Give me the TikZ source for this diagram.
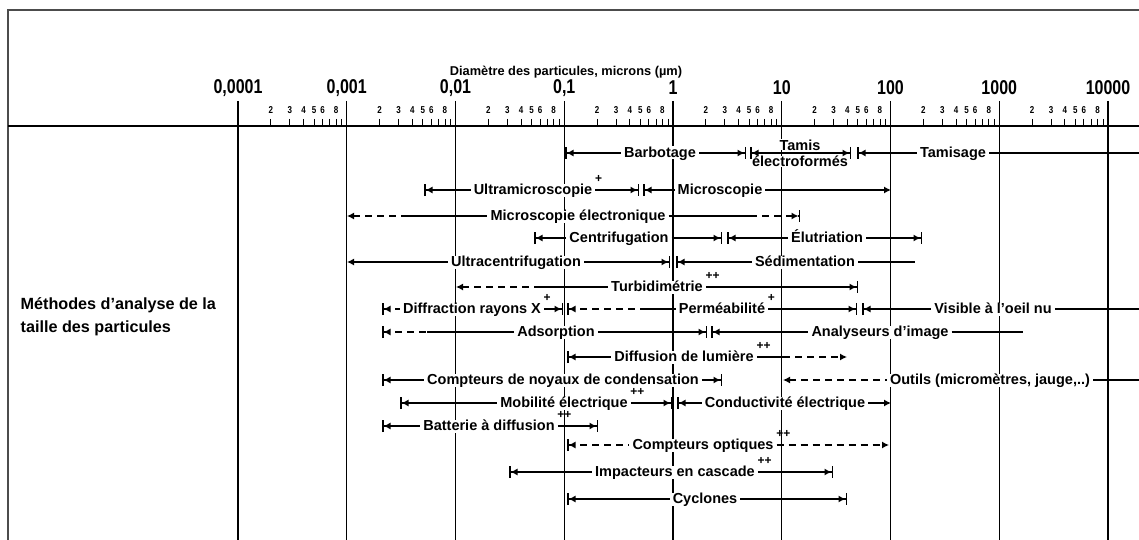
\documentclass[tikz,border=0pt]{standalone}
\usepackage{fontspec}
\setmainfont{Liberation Sans}
\newfontfamily\etroite[FakeStretch=0.8]{Liberation Sans}
\usetikzlibrary{arrows.meta}

\tikzset{
  cadre/.style={line width=2pt, black!70},
  axe/.style={line width=1.4pt},
  decade/.style={line width=1.4pt},
  graduation/.style={line width=0.9pt},
  titre/.style={font=\fontsize{12.8}{14}\selectfont\bfseries},
  echelle/.style={font=\etroite\fontsize{20}{20}\selectfont\bfseries, inner sep=0pt},
  chiffre/.style={font=\etroite\fontsize{10}{10}\selectfont\bfseries, inner sep=0pt},
  methode/.style={font=\fontsize{14.5}{16}\selectfont\bfseries, fill=white, text height=11pt, text depth=2pt, inner xsep=2.5pt, inner ysep=0pt},
  exposant/.style={font=\fontsize{12}{12}\selectfont\bfseries, inner sep=0pt},
  renvoi/.style={label={[exposant,anchor=west,xshift=-1pt,yshift=3.5pt]north east:#1}},
  tirets/.style={dash pattern=on 7pt off 5pt},
  barreG/.style={arrows={{Bar[width=12pt,line width=1.5pt]Latex[length=7pt,width=7pt]}-}},
  barreD/.style={arrows={-{Latex[length=7pt,width=7pt]Bar[width=12pt,line width=1.5pt]}}},
  barres/.style={arrows={{Bar[width=12pt,line width=1.5pt]Latex[length=7pt,width=7pt]}-{Latex[length=7pt,width=7pt]Bar[width=12pt,line width=1.5pt]}}},
  pointeG/.style={arrows={{Latex[length=7pt,width=7pt]}-}},
  pointeD/.style={arrows={-{Latex[length=7pt,width=7pt]}}},
}

\begin{document}
\begin{tikzpicture}[x=1pt, y=-1pt, line width=1.3pt]
  \useasboundingbox (0,0) rectangle (1139,540);

  % cadre et axe
  \draw[cadre] (8,540) -- (8,10) -- (1139,10);
  \draw[axe] (8,126) -- (1139,126);
  \node[titre] (titre) at (566,72) {Diamètre des particules, microns (µm)};

  % decades
  \foreach \k/\lab in {0/{0,0001},1/{0,001},2/{0,01},3/{0,1},4/1,5/10,6/100,7/1000,8/10000} {
    \pgfmathsetmacro{\xd}{238+108.75*\k}
    \draw[decade] (\xd,101) -- (\xd,540);
    \node[echelle] (dec\k) at (\xd,88) {\lab};
  }
  % graduations
  \foreach \k in {0,...,7} {
    \foreach \m in {2,...,9} {
      \pgfmathsetmacro{\xm}{238+108.75*(\k+log10(\m))}
      \draw[graduation] (\xm,119) -- (\xm,126);
    }
    \foreach \m in {2,3,4,5,6,8} {
      \pgfmathsetmacro{\xm}{238+108.75*(\k+log10(\m))}
      \node[chiffre] (g\k\m) at (\xm,110) {\m};
    }
  }

  \node[font=\fontsize{16.2}{23}\selectfont\bfseries, align=left, anchor=west, inner sep=0pt] (methodes) at (20,317)
    {Méthodes d'analyse de la\\taille des particules};

  % ligne 1
  \coordinate (barbG) at (565,153);
  \coordinate (barbD) at (746,153);
  \node[methode] (barb) at (660,153) {Barbotage};
  \draw[barreG] (barbG) -- (barb);
  \draw[barreD] (barb) -- (barbD);
  \coordinate (tamG) at (750,153);
  \coordinate (tamD) at (851,153);
  \node[methode, text height=, text depth=, inner sep=0pt, anchor=base] (tamis) at (800,150) {Tamis};
  \node[methode, text height=, text depth=, inner sep=0pt, anchor=base] (tamisb) at (800,167) {électroformés};
  \draw[barres] (tamG) -- (tamD);
  \coordinate (tsG) at (857,153);
  \coordinate (tsD) at (1139,153);
  \node[methode] (tamisage) at (953,153) {Tamisage};
  \draw[barreG] (tsG) -- (tamisage);
  \draw (tamisage) -- (tsD);

  % ligne 2
  \coordinate (umG) at (424,190);
  \coordinate (umD) at (639,190);
  \node[methode, renvoi=+] (umicro) at (533,190) {Ultramicroscopie};
  \draw[barreG] (umG) -- (umicro);
  \draw[barreD] (umicro) -- (umD);
  \coordinate (miG) at (643,190);
  \coordinate (miD) at (891,190);
  \node[methode] (micro) at (720,190) {Microscopie};
  \draw[barreG] (miG) -- (micro);
  \draw[pointeD] (micro) -- (miD);

  % ligne 3
  \coordinate (meG) at (347,216);
  \coordinate (meA) at (405,216);
  \coordinate (meB) at (750,216);
  \coordinate (meD) at (800,216);
  \node[methode] (melec) at (578,216) {Microscopie électronique};
  \draw[pointeG, tirets] (meG) -- (meA);
  \draw (meA) -- (melec);
  \draw (melec) -- (meB);
  \draw[barreD, tirets] (meB) -- (meD);

  % ligne 4
  \coordinate (cfG) at (534,238);
  \coordinate (cfD) at (722,238);
  \node[methode] (centri) at (619,238) {Centrifugation};
  \draw[barreG] (cfG) -- (centri);
  \draw[barreD] (centri) -- (cfD);
  \coordinate (elG) at (727,238);
  \coordinate (elD) at (922,238);
  \node[methode] (elut) at (827,238) {Élutriation};
  \draw[barreG] (elG) -- (elut);
  \draw[barreD] (elut) -- (elD);

  % ligne 5
  \coordinate (ucG) at (347,262);
  \coordinate (ucD) at (670,262);
  \node[methode] (ucentri) at (516,262) {Ultracentrifugation};
  \draw[pointeG] (ucG) -- (ucentri);
  \draw[barreD] (ucentri) -- (ucD);
  \coordinate (seG) at (676,262);
  \coordinate (seD) at (915,262);
  \node[methode] (sedim) at (805,262) {Sédimentation};
  \draw[barreG] (seG) -- (sedim);
  \draw (sedim) -- (seD);

  % ligne 6
  \coordinate (tuG) at (456,287);
  \coordinate (tuA) at (535,287);
  \coordinate (tuD) at (858,287);
  \node[methode, renvoi=++] (turbi) at (657,287) {Turbidimétrie};
  \draw[pointeG, tirets] (tuG) -- (tuA);
  \draw (tuA) -- (turbi);
  \draw[barreD] (turbi) -- (tuD);

  % ligne 7
  \coordinate (drG) at (382,309);
  \coordinate (drD) at (563,309);
  \node[methode, renvoi=+] (diffr) at (472,309) {Diffraction rayons X};
  \draw[barreG, tirets] (drG) -- (diffr);
  \draw[barreD] (diffr) -- (drD);
  \coordinate (peG) at (567,309);
  \coordinate (peA) at (643,309);
  \coordinate (peD) at (857,309);
  \node[methode, renvoi=+] (perme) at (722,309) {Perméabilité};
  \draw[barreG, tirets] (peG) -- (peA);
  \draw (peA) -- (perme);
  \draw[barreD] (perme) -- (peD);
  \coordinate (viG) at (862,309);
  \coordinate (viD) at (1139,309);
  \node[methode] (visible) at (993,309) {Visible à l'oeil nu};
  \draw[barreG] (viG) -- (visible);
  \draw (visible) -- (viD);

  % ligne 8
  \coordinate (adG) at (382,332);
  \coordinate (adA) at (427,332);
  \coordinate (adD) at (707,332);
  \node[methode] (adsorp) at (556,332) {Adsorption};
  \draw[barreG, tirets] (adG) -- (adA);
  \draw (adA) -- (adsorp);
  \draw[barreD] (adsorp) -- (adD);
  \coordinate (anG) at (711,332);
  \coordinate (anD) at (1023,332);
  \node[methode] (analys) at (880,332) {Analyseurs d'image};
  \draw[barreG] (anG) -- (analys);
  \draw (analys) -- (anD);

  % ligne 9
  \coordinate (dfG) at (567,357);
  \coordinate (dfA) at (783,357);
  \coordinate (dfD) at (847,357);
  \node[methode, renvoi=++] (diffu) at (684,357) {Diffusion de lumière};
  \draw[barreG] (dfG) -- (diffu);
  \draw (diffu) -- (dfA);
  \draw[pointeD, tirets] (dfA) -- (dfD);

  % ligne 10
  \coordinate (cnG) at (382,380);
  \coordinate (cnD) at (722,380);
  \node[methode] (noyaux) at (563,380) {Compteurs de noyaux de condensation};
  \draw[barreG] (cnG) -- (noyaux);
  \draw[barreD] (noyaux) -- (cnD);
  \coordinate (ouG) at (783,380);
  \coordinate (ouD) at (1139,380);
  \node[methode] (outils) at (990,380) {Outils (micromètres, jauge,..)};
  \draw[pointeG, tirets] (ouG) -- (outils);
  \draw (outils) -- (ouD);

  % ligne 11
  \coordinate (mbG) at (400,403);
  \coordinate (mbD) at (672,403);
  \node[methode, renvoi=++] (mobil) at (564,403) {Mobilité électrique};
  \draw[barreG] (mbG) -- (mobil);
  \draw[barreD] (mobil) -- (mbD);
  \coordinate (coG) at (677,403);
  \coordinate (coD) at (891,403);
  \node[methode] (conduc) at (785,403) {Conductivité électrique};
  \draw[barreG] (coG) -- (conduc);
  \draw[pointeD] (conduc) -- (coD);

  % ligne 12
  \coordinate (baG) at (382,426);
  \coordinate (baD) at (598,426);
  \node[methode, renvoi=++] (batt) at (489,426) {Batterie à diffusion};
  \draw[barreG] (baG) -- (batt);
  \draw[barreD] (batt) -- (baD);

  % ligne 13
  \coordinate (opG) at (567,445);
  \coordinate (opD) at (889,445);
  \node[methode, renvoi=++] (optiq) at (703,445) {Compteurs optiques};
  \draw[barreG, tirets] (opG) -- (optiq);
  \draw[pointeD, tirets] (optiq) -- (opD);

  % ligne 14
  \coordinate (imG) at (509,472);
  \coordinate (imD) at (833,472);
  \node[methode, renvoi=++] (impact) at (675,472) {Impacteurs en cascade};
  \draw[barreG] (imG) -- (impact);
  \draw[barreD] (impact) -- (imD);

  % ligne 15
  \coordinate (cyG) at (567,499);
  \coordinate (cyD) at (847,499);
  \node[methode] (cyclo) at (705,499) {Cyclones};
  \draw[barreG] (cyG) -- (cyclo);
  \draw[barreD] (cyclo) -- (cyD);
\end{tikzpicture}
\end{document}
